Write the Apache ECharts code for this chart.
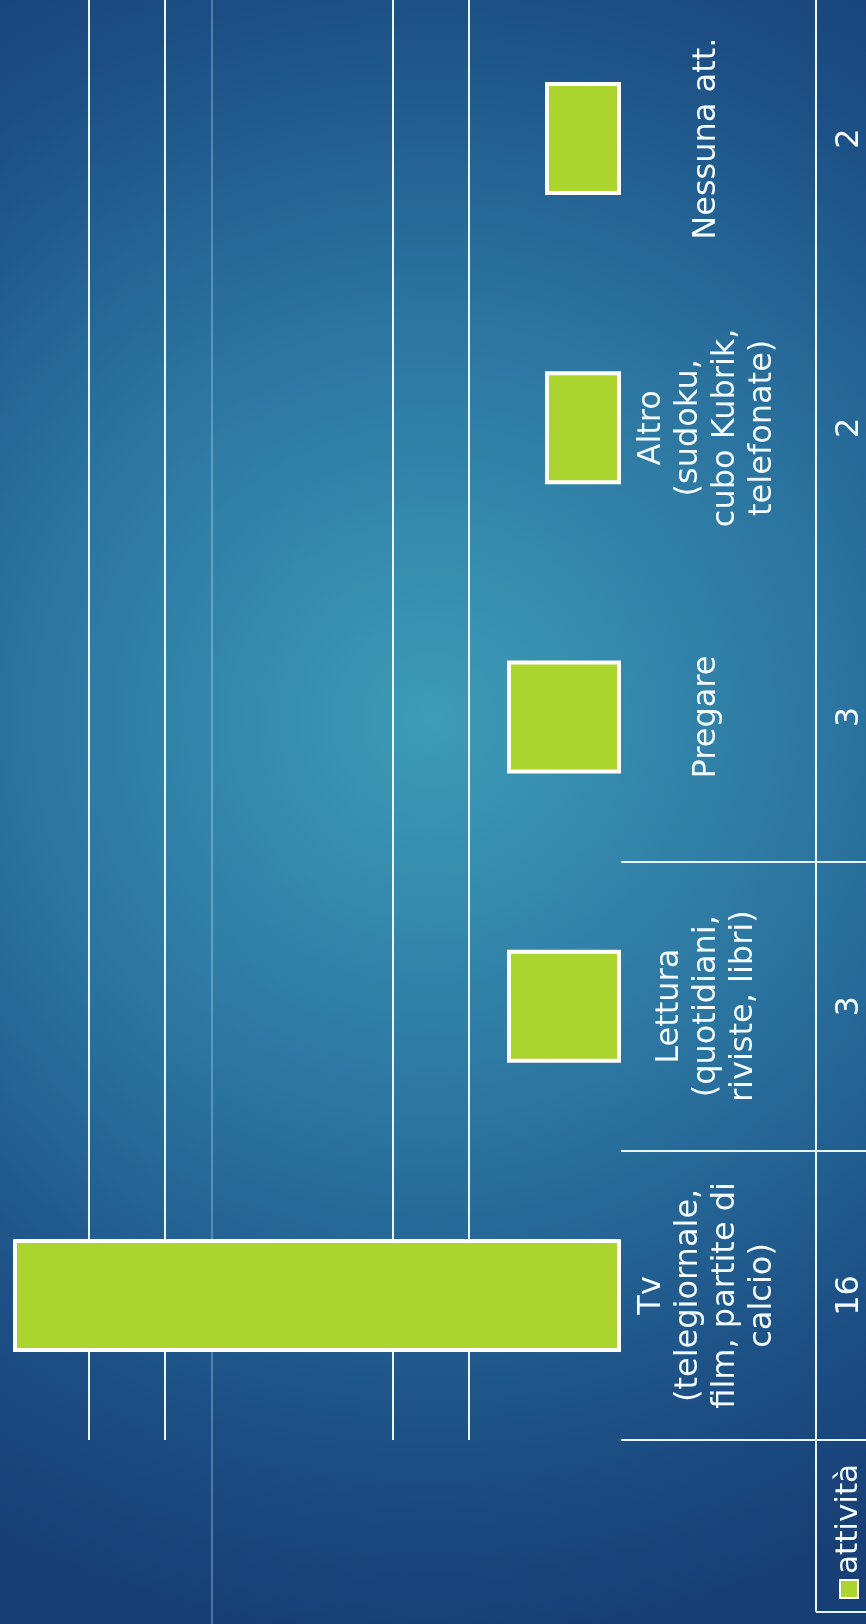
<!DOCTYPE html>
<html>
<head>
<meta charset="utf-8">
<script src="https://cdn.jsdelivr.net/npm/echarts@6/dist/echarts.min.js"></script>
<style>
  html, body { margin: 0; padding: 0; overflow: hidden; }
  body { position: relative; width: 866px; height: 1624px; }
  #chart { position: absolute; left: 0; top: -6px; width: 866px; height: 1630px; }
</style>
</head>
<body>
<div id="chart"></div>
<script>
// ---- data ----
const seriesName = 'attività';
const categories = [
  'Tv\n(telegiornale,\nfilm, partite di\ncalcio)',
  'Lettura\n(quotidiani,\nriviste, libri)',
  'Pregare',
  'Altro\n(sudoku,\ncubo Kubrik,\ntelefonate)',
  'Nessuna att.'
];
const values = [16, 3, 3, 2, 2];
const gridValues = [4, 6, 12, 14];
const axisMax = 16;
const axisStep = 2;

// ---- styling ----
const textColor = '#f2fbff';
const lineColor = '#e4f7ff';
const barColor = '#acd42f';
const fontFamily = 'DejaVu Sans';

const splitColors = [];
for (let v = 0; v <= axisMax; v += axisStep) {
  splitColors.push(gridValues.indexOf(v) >= 0 ? lineColor : 'rgba(0,0,0,0)');
}

const chart = echarts.init(document.getElementById('chart'), null, { renderer: 'canvas' });

const option = {
  animation: false,
  backgroundColor: {
    type: 'radial', x: 430, y: 726, r: 920, global: true,
    colorStops: [
      { offset: 0, color: '#3d9cb7' },
      { offset: 0.45, color: '#2b74a0' },
      { offset: 0.8, color: '#1c4e84' },
      { offset: 1, color: '#173f76' }
    ]
  },
  grid: { left: 13, right: 245, top: 0, bottom: 184, containLabel: false },
  xAxis: {
    type: 'value',
    inverse: true,
    min: 0,
    max: axisMax,
    interval: axisStep,
    axisLine: { show: false },
    axisTick: { show: false },
    axisLabel: { show: false },
    splitLine: { show: true, lineStyle: { color: splitColors, width: 2 } }
  },
  yAxis: [
    {
      type: 'category',
      data: categories,
      position: 'right',
      axisLine: { show: false },
      axisTick: {
        show: true,
        length: 245,
        interval: function (index) { return index <= 2; },
        lineStyle: { color: lineColor, width: 2 }
      },
      axisLabel: {
        interval: 0,
        rotate: 90,
        margin: 86,
        verticalAlign: 'middle',
        align: 'center',
        color: textColor,
        fontFamily: fontFamily,
        fontSize: 32,
        lineHeight: 37
      }
    },
    {
      type: 'category',
      data: categories,
      position: 'right',
      offset: 195,
      axisLine: { show: true, lineStyle: { color: lineColor, width: 2 } },
      axisTick: { show: false },
      axisLabel: {
        interval: 0,
        rotate: 90,
        margin: 18,
        color: textColor,
        fontFamily: fontFamily,
        fontSize: 32,
        formatter: function (value, index) { return String(values[index]); }
      }
    }
  ],
  series: [
    {
      name: seriesName,
      type: 'bar',
      yAxisIndex: 0,
      data: values,
      barWidth: 113,
      itemStyle: { color: barColor, borderColor: '#ffffff', borderWidth: 4 }
    }
  ],
  graphic: [
    // thin decorative background line
    { type: 'line', z: -5, shape: { x1: 212, y1: 0, x2: 212, y2: 1630 },
      style: { stroke: 'rgba(230,245,255,0.55)', lineWidth: 1 } },
    // legend box
    { type: 'line', shape: { x1: 816, y1: 1446, x2: 816, y2: 1618 },
      style: { stroke: lineColor, lineWidth: 2 } },
    { type: 'line', shape: { x1: 816, y1: 1618, x2: 866, y2: 1618 },
      style: { stroke: lineColor, lineWidth: 2 } },
    {
      type: 'group', x: 849, y: 1604, rotation: Math.PI / 2,
      children: [
        { type: 'rect', shape: { x: 0, y: -9, width: 18, height: 18 },
          style: { fill: barColor, stroke: '#ffffff', lineWidth: 2 } },
        { type: 'text', x: 24, y: 0,
          style: { text: seriesName, fill: textColor, font: '31px "DejaVu Sans"',
                   textAlign: 'left', textVerticalAlign: 'middle' } }
      ]
    }
  ]
};

chart.setOption(option);
</script>
</body>
</html>
